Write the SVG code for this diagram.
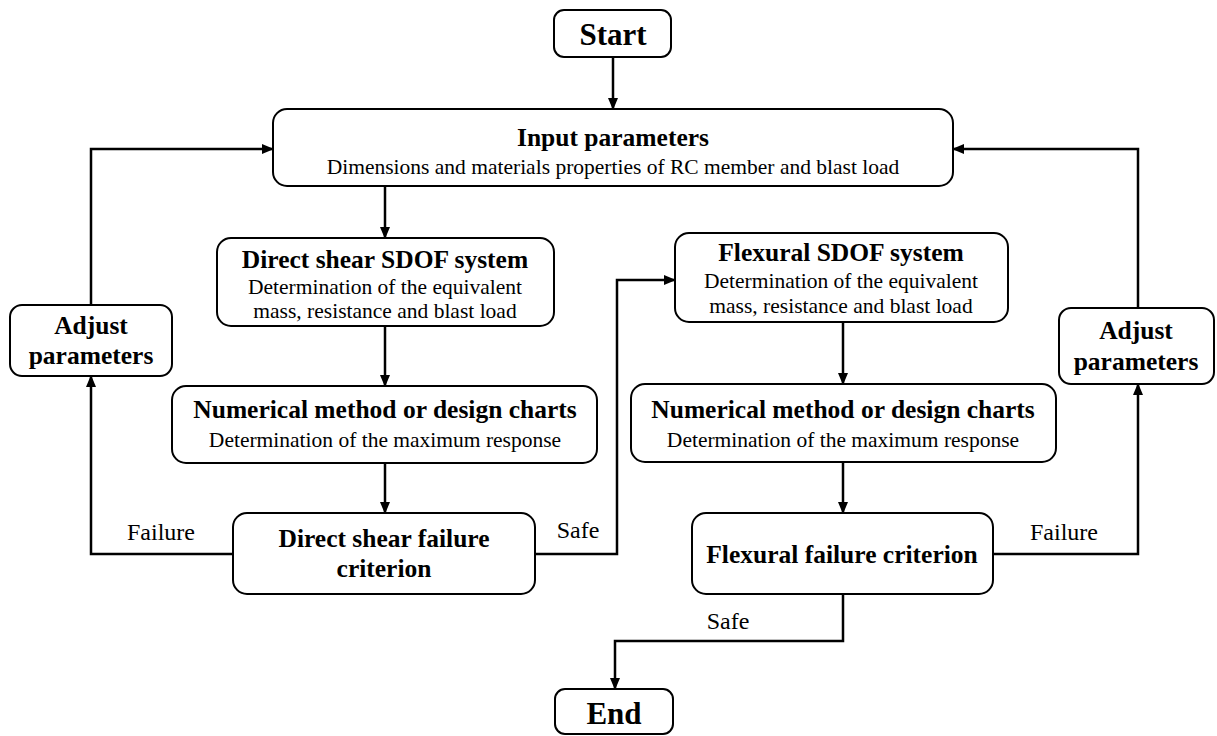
<svg xmlns="http://www.w3.org/2000/svg" width="1217" height="736" viewBox="0 0 1217 736">
<style>
  .box { fill: #fff; stroke: #000; stroke-width: 2; }
  .ln { fill: none; stroke: #000; stroke-width: 2.5; }
  .t { font-family: "Liberation Serif", "Times New Roman", serif; font-weight: bold; font-size: 25.5px; text-anchor: middle; fill: #000; }
  .s { font-family: "Liberation Serif", "Times New Roman", serif; font-size: 21.5px; text-anchor: middle; fill: #000; }
  .big { font-family: "Liberation Serif", "Times New Roman", serif; font-weight: bold; font-size: 31px; text-anchor: middle; fill: #000; }
  .lab { font-family: "Liberation Serif", "Times New Roman", serif; font-size: 24px; text-anchor: middle; fill: #000; }
</style>
<defs>
  <marker id="ah" markerWidth="12" markerHeight="10" refX="11" refY="5" orient="auto" markerUnits="userSpaceOnUse">
    <path d="M0,0 L12,5 L0,10 z" fill="#000"/>
  </marker>
</defs>
<rect width="1217" height="736" fill="#fff"/>

<g id="connectors">
  <path class="ln" d="M613,57 V109" marker-end="url(#ah)"/>
  <path class="ln" d="M385,186 V238" marker-end="url(#ah)"/>
  <path class="ln" d="M385,326 V386" marker-end="url(#ah)"/>
  <path class="ln" d="M385,463 V513" marker-end="url(#ah)"/>
  <path class="ln" d="M233,554 H91 V376" marker-end="url(#ah)"/>
  <path class="ln" d="M91,305 V149 H273" marker-end="url(#ah)"/>
  <path class="ln" d="M535,554 H617 V280 H675" marker-end="url(#ah)"/>
  <path class="ln" d="M843,322 V384" marker-end="url(#ah)"/>
  <path class="ln" d="M843,462 V513" marker-end="url(#ah)"/>
  <path class="ln" d="M993,554 H1138 V384" marker-end="url(#ah)"/>
  <path class="ln" d="M1138,308 V149 H953" marker-end="url(#ah)"/>
  <path class="ln" d="M843,594 V641 H615 V689" marker-end="url(#ah)"/>
  <text class="lab" x="161" y="540">Failure</text>
  <text class="lab" x="578" y="538">Safe</text>
  <text class="lab" x="1064" y="540">Failure</text>
  <text class="lab" x="728" y="629">Safe</text>
</g>

<g id="start">
  <rect class="box" x="554" y="10" width="117" height="47" rx="10"/>
  <text class="big" x="613" y="45">Start</text>
</g>

<g id="input">
  <rect class="box" x="273" y="109" width="680" height="77" rx="14"/>
  <text class="t" x="613" y="146">Input parameters</text>
  <text class="s" x="613" y="174">Dimensions and materials properties of RC member and blast load</text>
</g>

<g id="shear-sdof">
  <rect class="box" x="217" y="238" width="337" height="88" rx="14"/>
  <text class="t" x="385" y="268">Direct shear SDOF system</text>
  <text class="s" x="385" y="294">Determination of the equivalent</text>
  <text class="s" x="385" y="318">mass, resistance and blast load</text>
</g>

<g id="shear-numerical">
  <rect class="box" x="172" y="386" width="425" height="77" rx="14"/>
  <text class="t" x="385" y="418">Numerical method or design charts</text>
  <text class="s" x="385" y="447">Determination of the maximum response</text>
</g>

<g id="shear-criterion">
  <rect class="box" x="233" y="513" width="302" height="81" rx="14"/>
  <text class="t" x="384" y="547">Direct shear failure</text>
  <text class="t" x="384" y="577">criterion</text>
</g>

<g id="adjust-left">
  <rect class="box" x="10" y="305" width="162" height="71" rx="12"/>
  <text class="t" x="91" y="334">Adjust</text>
  <text class="t" x="91" y="364">parameters</text>
</g>

<g id="flexural-sdof">
  <rect class="box" x="675" y="233" width="333" height="89" rx="14"/>
  <text class="t" x="841" y="261">Flexural SDOF system</text>
  <text class="s" x="841" y="288">Determination of the equivalent</text>
  <text class="s" x="841" y="313">mass, resistance and blast load</text>
</g>

<g id="flexural-numerical">
  <rect class="box" x="631" y="384" width="425" height="78" rx="14"/>
  <text class="t" x="843" y="418">Numerical method or design charts</text>
  <text class="s" x="843" y="447">Determination of the maximum response</text>
</g>

<g id="flexural-criterion">
  <rect class="box" x="692" y="513" width="301" height="81" rx="14"/>
  <text class="t" x="842" y="563">Flexural failure criterion</text>
</g>

<g id="adjust-right">
  <rect class="box" x="1059" y="308" width="155" height="76" rx="12"/>
  <text class="t" x="1136" y="339">Adjust</text>
  <text class="t" x="1136" y="370">parameters</text>
</g>

<g id="end">
  <rect class="box" x="555" y="689" width="118" height="45" rx="10"/>
  <text class="big" x="614" y="724">End</text>
</g>
</svg>
